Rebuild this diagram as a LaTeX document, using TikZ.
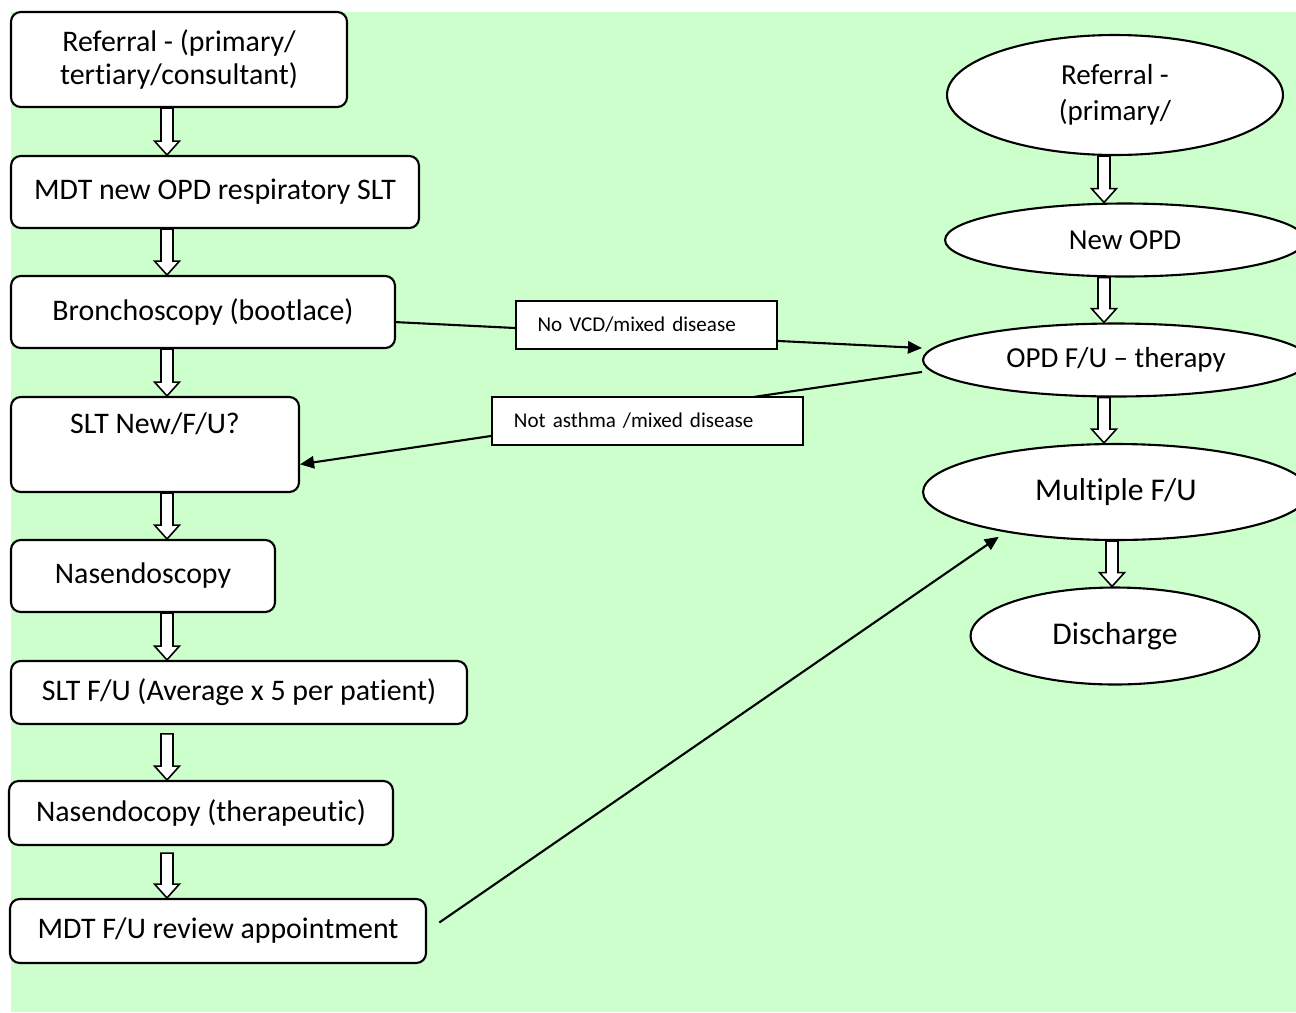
\documentclass[tikz,border=0pt]{standalone}
\usepackage{fontspec}
\setmainfont{Carlito}[Ligatures=NoCommon]
\usetikzlibrary{arrows.meta,shapes.geometric,calc}
\definecolor{bggreen}{HTML}{CCFFCC}
\tikzset{
  procbox/.style={draw, fill=white, rounded corners=5.5pt, line width=1.2pt, inner sep=0pt, align=center, font=\fontsize{17}{19}\selectfont},
  oval/.style={ellipse, draw, fill=white, line width=1.2pt, inner sep=0pt, align=center, font=\fontsize{16.5}{20.5}\selectfont},
  notebox/.style={draw, fill=white, line width=1.2pt, inner xsep=12.5pt, inner ysep=0pt, minimum height=27.2pt, align=left, font=\fontsize{12}{14}\selectfont},
  link/.style={draw, line width=1.2pt, -{Triangle[length=8pt,width=7pt]}},
  hollow/.style={draw, fill=white, line width=0.9pt, to path={
    let \p1=(\tikztostart), \p2=(\tikztotarget) in
    (\x1-3.4pt,\y1-#1) -- (\x1+3.4pt,\y1-#1) -- (\x1+3.4pt,\y2+7.9pt) -- (\x1+7.1pt,\y2+7.9pt)
    -- (\x1,\y2) -- (\x1-7.1pt,\y2+7.9pt) -- (\x1-3.4pt,\y2+7.9pt) -- cycle}},
  hollow/.default=0pt
}
\begin{document}
\begin{tikzpicture}[x=0.02cm, y=-0.02cm]
\useasboundingbox (0,0) rectangle (1296,1012);
\fill [bggreen] (11,12) rectangle (1296,1012);
\coordinate (lx) at (167,0);
\coordinate (rx) at (1104,0);
\coordinate (rx2) at (1112,0);
\node [procbox, minimum width=6.72cm, minimum height=1.9cm] (ref) at (179,59.5) {Referral - (primary/\\tertiary/consultant)};
\node [procbox, minimum width=8.16cm, minimum height=1.44cm] (mdtnew) at (215,192) {MDT new OPD respiratory SLT};
\node [procbox, minimum width=7.68cm, minimum height=1.44cm] (bron) at (203,312) {Bronchoscopy (bootlace)};
\node [procbox, minimum width=5.76cm, minimum height=1.9cm] (sltnew) at (155,444.5) {SLT New/F/U?\\\strut};
\node [procbox, minimum width=5.28cm, minimum height=1.44cm] (nasen) at (143,576) {Nasendoscopy};
\node [procbox, minimum width=9.12cm, minimum height=1.26cm] (sltfu) at (239,692.5) {SLT F/U (Average x 5 per patient)};
\node [procbox, minimum width=7.68cm, minimum height=1.28cm] (nasther) at (201,813) {Nasendocopy (therapeutic)};
\node [procbox, minimum width=8.32cm, minimum height=1.28cm] (review) at (218,931) {MDT F/U review appointment};
\node [oval, minimum width=6.72cm, minimum height=2.4cm] (eref) at (1115,95) {Referral -\\(primary/};
\node [oval, minimum width=7.2cm, minimum height=1.46cm] (enew) at (1125,240) {New OPD};
\node [oval, minimum width=7.72cm, minimum height=1.46cm] (eopd) at (1116,360) {OPD F/U -- therapy};
\node [oval, minimum width=7.72cm, minimum height=1.92cm, font=\fontsize{18}{22}\selectfont] (emulti) at (1116,492) {Multiple F/U};
\node [oval, minimum width=5.78cm, minimum height=1.94cm, font=\fontsize{18}{22}\selectfont] (edis) at (1115,636) {Discharge};
\draw [hollow] (ref.south -| lx) to (mdtnew.north -| lx);
\draw [hollow] (mdtnew.south -| lx) to (bron.north -| lx);
\draw [hollow] (bron.south -| lx) to (sltnew.north -| lx);
\draw [hollow] (sltnew.south -| lx) to (nasen.north -| lx);
\draw [hollow] (nasen.south -| lx) to (sltfu.north -| lx);
\draw [hollow=5pt] (sltfu.south -| lx) to (nasther.north -| lx);
\draw [hollow=4pt] (nasther.south -| lx) to (review.north -| lx);
\draw [hollow] (eref.south -| rx) to (enew.north -| rx);
\draw [hollow] (enew.south -| rx) to (eopd.north -| rx);
\draw [hollow] (eopd.south -| rx) to (emulti.north -| rx);
\draw [hollow] (emulti.south -| rx2) to (edis.north -| rx2);
\draw [link] (bron.-3) -- ([yshift=6.8pt]eopd.west);
\draw [link] ([yshift=-6.8pt]eopd.west) -- ([yshift=-11.3pt]sltnew.east);
\draw [link, shorten <=8.5pt, shorten >=4.5pt] (review.east) -- (emulti.200);
\node [notebox, text width=124pt] (novcd) at (646.5,325) {No VCD/mixed disease};
\node [notebox, text width=152pt] (notasthma) at (647.5,421) {Not asthma /mixed disease};
\end{tikzpicture}
\end{document}
